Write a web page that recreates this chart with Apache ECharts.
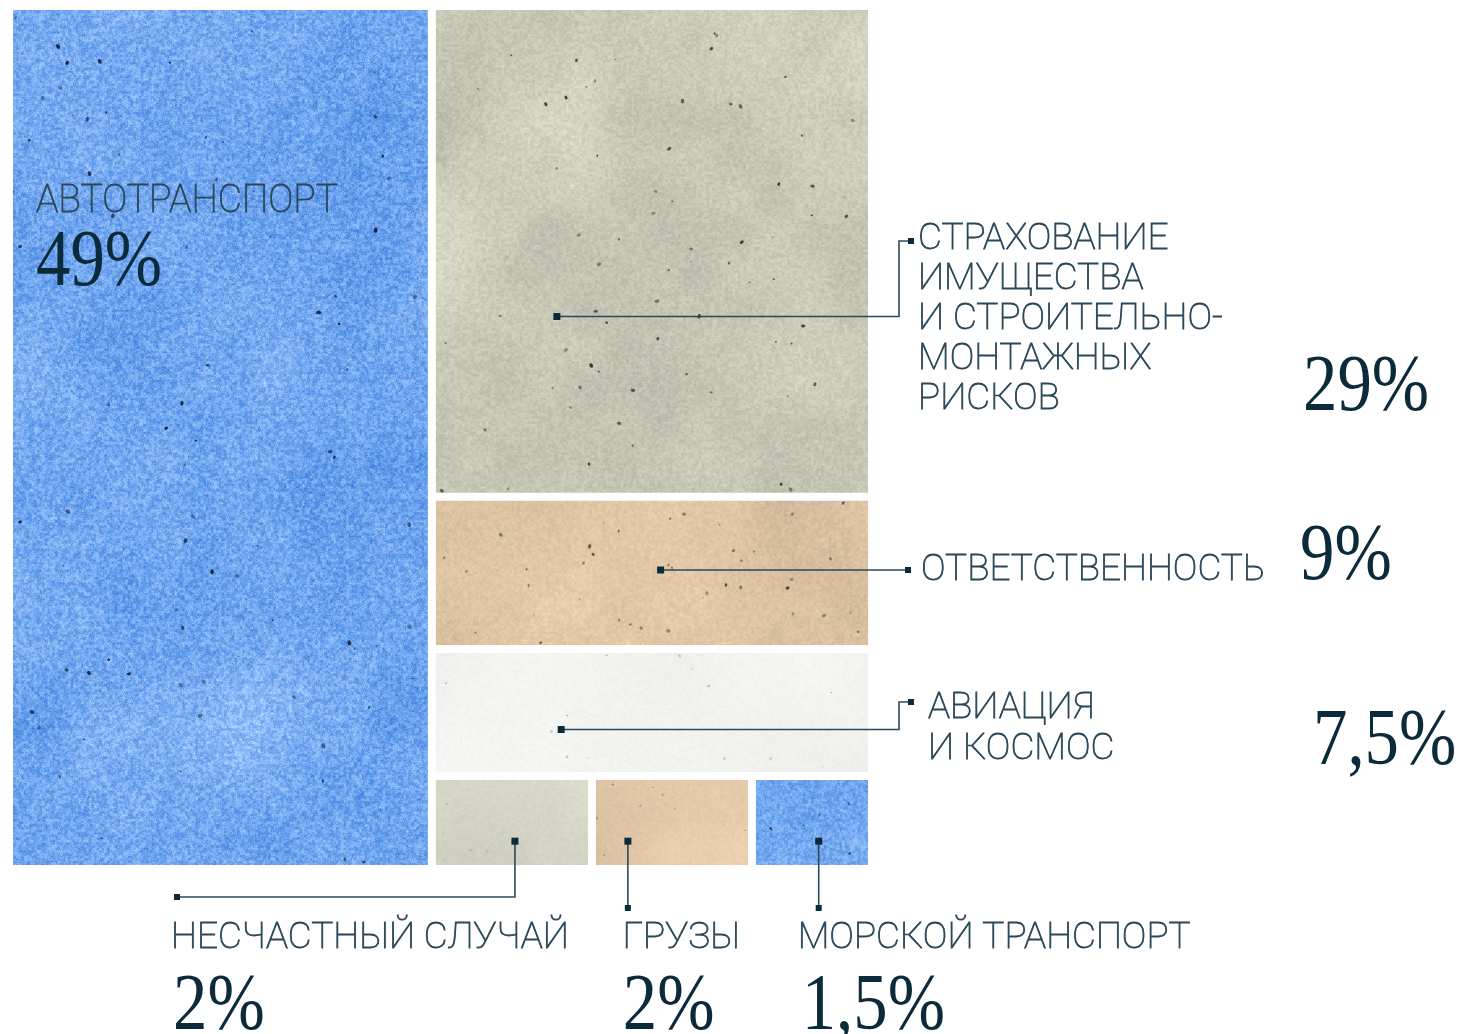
<!DOCTYPE html>
<html>
<head>
<meta charset="utf-8">
<script src="https://cdn.jsdelivr.net/npm/echarts@6/dist/echarts.min.js"></script>
<style>
html, body { margin: 0; padding: 0; background: #ffffff; }
#main { width: 1462px; height: 1034px; }
</style>
</head>
<body>
<div id="main"></div>
<script>
// ---------------- DATA ----------------
const categories = [
  'АВТОТРАНСПОРТ',
  'СТРАХОВАНИЕ ИМУЩЕСТВА И СТРОИТЕЛЬНО-МОНТАЖНЫХ РИСКОВ',
  'ОТВЕТСТВЕННОСТЬ',
  'АВИАЦИЯ И КОСМОС',
  'НЕСЧАСТНЫЙ СЛУЧАЙ',
  'ГРУЗЫ',
  'МОРСКОЙ ТРАНСПОРТ'
];
const labelLines = [
  ['АВТОТРАНСПОРТ'],
  ['СТРАХОВАНИЕ', 'ИМУЩЕСТВА', 'И СТРОИТЕЛЬНО-', 'МОНТАЖНЫХ', 'РИСКОВ'],
  ['ОТВЕТСТВЕННОСТЬ'],
  ['АВИАЦИЯ', 'И КОСМОС'],
  ['НЕСЧАСТНЫЙ СЛУЧАЙ'],
  ['ГРУЗЫ'],
  ['МОРСКОЙ ТРАНСПОРТ']
];
const shares = [49, 29, 9, 7.5, 2, 2, 1.5];
const shareLabels = ['49%', '29%', '9%', '7,5%', '2%', '2%', '1,5%'];
// nesting of the tiles (indices into categories)
const grouping = [0, [1, [[2, 3], [4, 5, 6]]]];

// ---------------- STYLE ----------------
const BORDER = 4;
const textures = [
  { base: [117, 169, 240], tint: [1.0, 0.75, 0.35], mottle: 16, grain: 42, specks: 90, speckSize: 1.4, speckColor: 'rgb(14,28,52)', seed: 11, w: 424, h: 864 },
  { base: [204, 204, 187], tint: [1, 1, 0.95], mottle: 11, grain: 14, specks: 70, speckSize: 1.2, speckColor: 'rgb(40,40,34)', seed: 23, w: 444, h: 492 },
  { base: [222, 195, 164], tint: [1, 0.95, 0.85], mottle: 9, grain: 12, specks: 40, speckSize: 1.1, speckColor: 'rgb(60,44,32)', seed: 37, w: 444, h: 160 },
  { base: [243, 243, 242], tint: [1, 1, 1], mottle: 3, grain: 4, specks: 14, speckSize: 0.8, speckColor: 'rgb(150,150,150)', seed: 41, w: 444, h: 130 },
  { base: [211, 212, 198], tint: [1, 1, 0.95], mottle: 7, grain: 5, specks: 8, speckSize: 0.6, speckColor: 'rgb(140,140,130)', seed: 53, w: 170, h: 90 },
  { base: [229, 201, 171], tint: [1, 0.95, 0.85], mottle: 8, grain: 6, specks: 8, speckSize: 0.6, speckColor: 'rgb(150,120,95)', seed: 67, w: 170, h: 90 },
  { base: [118, 170, 240], tint: [1.0, 0.75, 0.35], mottle: 12, grain: 38, specks: 8, speckSize: 0.9, speckColor: 'rgb(30,60,110)', seed: 79, w: 130, h: 90 }
];

function hash2(x, y, s) {
  let h = Math.imul(x | 0, 374761393) ^ Math.imul(y | 0, 668265263) ^ Math.imul(s | 0, 1442695041);
  h = Math.imul(h ^ (h >>> 13), 1274126177);
  h ^= h >>> 16;
  return (h >>> 0) / 4294967296;
}
function vnoise(x, y, sc, s) {
  const gx = x / sc, gy = y / sc;
  const ix = Math.floor(gx), iy = Math.floor(gy);
  let fx = gx - ix, fy = gy - iy;
  fx = fx * fx * (3 - 2 * fx); fy = fy * fy * (3 - 2 * fy);
  const a = hash2(ix, iy, s), b = hash2(ix + 1, iy, s), c = hash2(ix, iy + 1, s), d = hash2(ix + 1, iy + 1, s);
  return a + (b - a) * fx + (c - a) * fy + (a - b - c + d) * fx * fy;
}
function clamp(v) { return v < 0 ? 0 : v > 255 ? 255 : v; }
function makeTexture(t) {
  const w = t.w, h = t.h;
  const cv = document.createElement('canvas');
  cv.width = w; cv.height = h;
  const ctx = cv.getContext('2d');
  const img = ctx.createImageData(w, h);
  const d = img.data;
  for (let y = 0; y < h; y++) {
    for (let x = 0; x < w; x++) {
      const m = (vnoise(x, y, 120, t.seed) - 0.5) * 2 * t.mottle + (vnoise(x, y, 38, t.seed + 7) - 0.5) * t.mottle;
      const g = (hash2(x, y, t.seed + 3) - 0.5) * t.grain + (vnoise(x, y, 2.6, t.seed + 11) - 0.5) * 1.4 * t.grain;
      const v = m + g;
      const k = (y * w + x) * 4;
      d[k] = clamp(t.base[0] + v * t.tint[0]);
      d[k + 1] = clamp(t.base[1] + v * t.tint[1]);
      d[k + 2] = clamp(t.base[2] + v * t.tint[2]);
      d[k + 3] = 255;
    }
  }
  ctx.putImageData(img, 0, 0);
  ctx.fillStyle = t.speckColor;
  for (let i = 0; i < t.specks; i++) {
    const px = hash2(i, 1, t.seed + 21) * w, py = hash2(i, 2, t.seed + 21) * h;
    const r = 0.5 + hash2(i, 3, t.seed + 21) * t.speckSize;
    ctx.globalAlpha = 0.35 + 0.6 * hash2(i, 4, t.seed + 21);
    ctx.beginPath();
    ctx.ellipse(px, py, r * 1.4, r, hash2(i, 5, t.seed + 21) * Math.PI, 0, Math.PI * 2);
    ctx.fill();
  }
  ctx.globalAlpha = 1;
  return cv;
}
const patterns = textures.map(function (t) {
  return { image: makeTexture(t), repeat: 'repeat' };
});

function build(g, depth) {
  if (typeof g === 'number') {
    return {
      name: categories[g],
      value: shares[g],
      itemStyle: { color: patterns[g], borderWidth: BORDER, borderColor: '#ffffff', gapWidth: 0 }
    };
  }
  return {
    name: 'group-' + depth + '-' + String(g).length,
    children: g.map(function (c) { return build(c, depth + 1); }),
    itemStyle: { borderWidth: 0, gapWidth: 0, borderColor: '#ffffff' }
  };
}
const treeData = build(grouping, 0).children;

const chart = echarts.init(document.getElementById('main'));
chart.setOption({
  backgroundColor: '#ffffff',
  animation: false,
  series: [{
    type: 'treemap',
    left: 9, top: 6, width: 863, height: 863,
    squareRatio: 2.15,
    sort: false,
    roam: false,
    nodeClick: false,
    silent: true,
    breadcrumb: { show: false },
    label: { show: false },
    upperLabel: { show: false },
    itemStyle: { borderWidth: 0, gapWidth: 0, borderColor: '#ffffff' },
    data: treeData
  }]
});

// ---------------- CALLOUTS (positioned from the computed layout) ----------------
const rects = {};
try {
  const sm = chart.getModel().getSeriesByIndex(0);
  const data = sm.getData();
  const info = sm.layoutInfo || { x: 9, y: 6 };
  data.tree.eachNode(function (node) {
    const i = categories.indexOf(node.name);
    if (i < 0) return;
    const lay = node.getLayout();
    if (!lay) return;
    let x = 0, y = 0, n = node;
    while (n) {
      const l = n.getLayout();
      if (l) { x += l.x || 0; y += l.y || 0; }
      n = n.parentNode;
    }
    rects[i] = { x: info.x + x + BORDER, y: info.y + y + BORDER, w: lay.width - 2 * BORDER, h: lay.height - 2 * BORDER };
  });
} catch (e) { console.log(e); }

const LINE = '#2c4958';
const DOT = '#0b2b3a';
const LABEL_COLOR = '#2a4858';
const PCT_COLOR = '#0b2a3a';
const LABEL_FONT = '36px "Roboto Thin", "Roboto Light", Roboto';
const LABEL_STROKE = 0.8;
const LABEL_SX = 1.025;
const PCT_SIZE = 80;
const PCT_FONT = PCT_SIZE + 'px "Liberation Serif"';

const els = [];
function txt(str, x, y, font, color, sx, strokeW) {
  const style = { text: str, x: 0, y: 0, font: font, fill: color, textAlign: 'left', textVerticalAlign: 'middle', align: 'left', verticalAlign: 'middle' };
  if (strokeW) { style.stroke = color; style.lineWidth = strokeW; }
  els.push({ type: 'text', x: x, y: y, scaleX: sx || 1, z: 100, silent: true, style: style });
}
function label(str, x, y, sx, font) { txt(str, x, y, font || LABEL_FONT, LABEL_COLOR, sx || LABEL_SX, LABEL_STROKE); }
function pct(str, x, baseline) { txt(str, x, baseline - 0.27 * PCT_SIZE, PCT_FONT, PCT_COLOR, 0.86); }
function dot(x, y, s) {
  els.push({ type: 'rect', z: 101, silent: true, shape: { x: x - s / 2, y: y - s / 2, width: s, height: s }, style: { fill: DOT } });
}
function line(points) {
  els.push({ type: 'polyline', z: 100, silent: true, shape: { points: points }, style: { stroke: LINE, lineWidth: 1.6, fill: null } });
}

if (Object.keys(rects).length === categories.length) {
  const X0 = Math.min.apply(null, Object.values(rects).map(function (r) { return r.x; }));
  const Y0 = Math.min.apply(null, Object.values(rects).map(function (r) { return r.y; }));
  const X1 = Math.max.apply(null, Object.values(rects).map(function (r) { return r.x + r.w; }));
  const Y1 = Math.max.apply(null, Object.values(rects).map(function (r) { return r.y + r.h; }));
  const at = function (i, fx, fy) { const r = rects[i]; return [r.x + fx * r.w, r.y + fy * r.h]; };

  const r0 = rects[0];
  label(labelLines[0][0], r0.x + 23, r0.y + 191, 0.985, '38px "Roboto Thin", "Roboto Light", Roboto');
  pct(shareLabels[0], r0.x + 23, r0.y + 276);

  let p = at(1, 0.28, 0.635);
  line([p, [X1 + 31, p[1]], [X1 + 31, Y0 + 231], [X1 + 43, Y0 + 231]]);
  dot(p[0], p[1], 7); dot(X1 + 43, Y0 + 231, 6);
  labelLines[1].forEach(function (s, k) { label(s, X1 + 50, Y0 + 228 + k * 40); });
  pct(shareLabels[1], X1 + 435, Y0 + 401);

  p = at(2, 0.52, 0.48);
  line([p, [X1 + 40, p[1]]]);
  dot(p[0], p[1], 7); dot(X1 + 40, p[1], 6);
  label(labelLines[2][0], X1 + 53, p[1] - 1);
  pct(shareLabels[2], X1 + 432, p[1] + 10);

  p = at(3, 0.29, 0.643);
  line([p, [X1 + 31, p[1]], [X1 + 31, Y0 + 692], [X1 + 43, Y0 + 692]]);
  dot(p[0], p[1], 7); dot(X1 + 43, Y0 + 692, 6);
  labelLines[3].forEach(function (s, k) { label(s, X1 + 60, Y0 + 697 + k * 41); });
  pct(shareLabels[3], X1 + 445, Y0 + 755);

  p = at(4, 0.52, 0.72);
  line([p, [p[0], Y1 + 32], [X0 + 164, Y1 + 32]]);
  dot(p[0], p[1], 7); dot(X0 + 164, Y1 + 32, 6);
  label(labelLines[4][0], X0 + 158, Y1 + 72);
  pct(shareLabels[4], X0 + 160, Y1 + 165);

  p = at(5, 0.21, 0.72);
  line([p, [p[0], Y1 + 43]]);
  dot(p[0], p[1], 7); dot(p[0], Y1 + 43, 6);
  label(labelLines[5][0], p[0] - 5, Y1 + 72);
  pct(shareLabels[5], p[0] - 5, Y1 + 165);

  p = at(6, 0.56, 0.72);
  line([p, [p[0], Y1 + 43]]);
  dot(p[0], p[1], 7); dot(p[0], Y1 + 43, 6);
  label(labelLines[6][0], p[0] - 21, Y1 + 72);
  pct(shareLabels[6], p[0] - 17, Y1 + 165);

  chart.setOption({ graphic: { elements: els } });
}
</script>
</body>
</html>
